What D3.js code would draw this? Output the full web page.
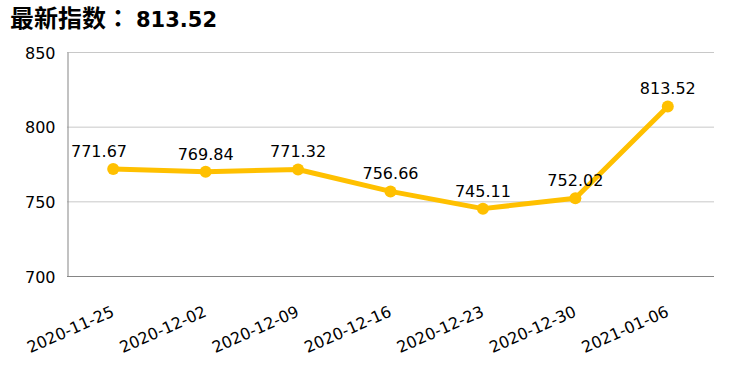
<!DOCTYPE html>
<html><head><meta charset="utf-8">
<script src="https://cdn.jsdelivr.net/npm/d3@7"></script>
<style>
body{margin:0;background:#fff;}
text{font-family:"DejaVu Sans",sans-serif;}
</style></head>
<body>
<svg id="c" width="733" height="387"></svg>
<script>
const categories = ["2020-11-25","2020-12-02","2020-12-09","2020-12-16","2020-12-23","2020-12-30","2021-01-06"];
const values = [771.67, 769.84, 771.32, 756.66, 745.11, 752.02, 813.52];
const yTicks = [700, 750, 800, 850];
const titleLabel = "最新指数：";
const titleValue = "813.52";

const svg = d3.select("#c");
const m = {left:67, right:714, top:52, bottom:276};
const x = d3.scaleBand().domain(categories).range([m.left, m.right]);
const y = d3.scaleLinear().domain([700, 850]).range([m.bottom, m.top]);
const color = "#FFC000";
const FONT = '"DejaVu Sans",sans-serif';

const t = svg.append("text").attr("x", 10).attr("y", 27).attr("fill", "#000").attr("font-weight", "bold");
t.append("tspan").style("font-family", '"Noto Sans CJK TC","Noto Sans CJK SC",sans-serif').attr("font-size", 24).text(titleLabel);
t.append("tspan").style("font-family", FONT).attr("font-size", 21).attr("dx", 6).text(titleValue);

// gridlines
svg.append("g").selectAll("line").data(yTicks.filter(d => d > 700)).join("line")
  .attr("x1", m.left).attr("x2", m.right)
  .attr("y1", d => y(d) + 0.5).attr("y2", d => y(d) + 0.5)
  .attr("stroke", "#c8c8c8").attr("stroke-width", 1);

// y axis
const ya = svg.append("g").attr("transform", `translate(${m.left + 0.5},0)`)
  .call(d3.axisLeft(y).tickValues(yTicks).tickSize(0).tickPadding(12));
ya.select(".domain").attr("stroke", "#858585");
ya.selectAll("text").attr("font-size", 16).attr("fill", "#000").style("font-family", FONT)
  .attr("dy", "0.38em");

// x axis
const xa = svg.append("g").attr("transform", `translate(0,${m.bottom + 0.5})`)
  .call(d3.axisBottom(x).tickSize(0).tickPadding(0));
xa.select(".domain").attr("stroke", "#858585").attr("d", `M${m.left},0H${m.right}`);
xa.selectAll("text").attr("font-size", 16).attr("fill", "#000").style("font-family", FONT)
  .attr("text-anchor", "end").attr("dy", null).attr("y", 0)
  .attr("transform", "translate(2,39) rotate(-24)");

// line
const cx = d => x(d) + x.bandwidth() / 2;
const line = d3.line().x((d, i) => cx(categories[i])).y(d => y(d));
svg.append("path").datum(values).attr("d", line)
  .attr("fill", "none").attr("stroke", color).attr("stroke-width", 5)
  .attr("stroke-linejoin", "round");

svg.append("g").selectAll("circle").data(values).join("circle")
  .attr("cx", (d, i) => cx(categories[i])).attr("cy", d => y(d))
  .attr("r", 6).attr("fill", color);

// data labels (first one sits against the left edge of the plot, as in the reference)
svg.append("g").selectAll("text").data(values).join("text")
  .attr("x", (d, i) => i === 0 ? m.left + 4 : cx(categories[i]))
  .attr("text-anchor", (d, i) => i === 0 ? "start" : "middle")
  .attr("y", d => y(d) - 12)
  .attr("font-size", 16).attr("fill", "#000").style("font-family", FONT)
  .text(d => d.toFixed(2));
</script>
</body></html>
